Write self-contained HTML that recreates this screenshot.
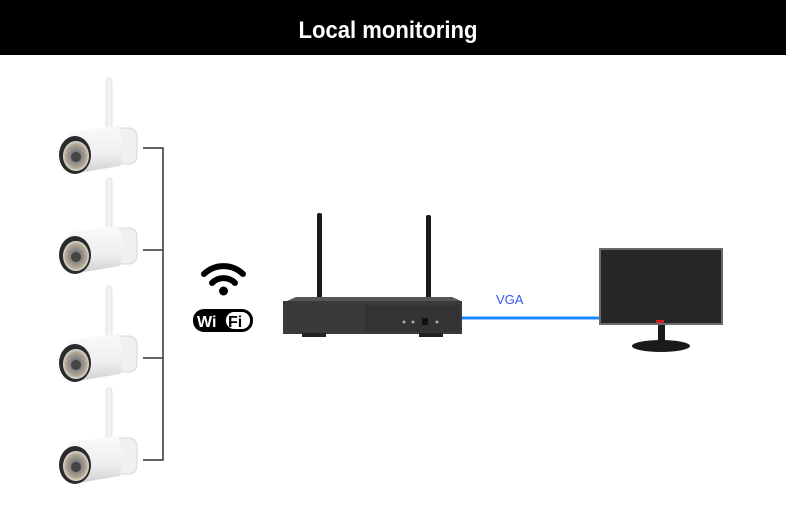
<!DOCTYPE html>
<html><head><style>
html,body{margin:0;padding:0;background:#fff;width:786px;height:511px;overflow:hidden}
</style></head><body>
<svg width="786" height="511" viewBox="0 0 786 511" xmlns="http://www.w3.org/2000/svg">
<defs>
<linearGradient id="bd" x1="0" y1="0" x2="0" y2="1"><stop offset="0" stop-color="#fafafa"/><stop offset="0.6" stop-color="#eeeeee"/><stop offset="1" stop-color="#cfcfcf"/></linearGradient>
<radialGradient id="ln" cx="0.5" cy="0.5" r="0.5"><stop offset="0" stop-color="#555"/><stop offset="0.45" stop-color="#888"/><stop offset="0.8" stop-color="#b5a890"/><stop offset="1" stop-color="#ddd"/></radialGradient>
<g id="cam">
  <rect x="106" y="-72" width="6" height="62" rx="3" fill="#f2f2f2" stroke="#ddd" stroke-width="0.8"/>
  <path d="M113,-22 h16 a8,8 0 0 1 8,8 v20 a8,8 0 0 1 -8,8 h-16 z" fill="#f0f0f0" stroke="#d8d8d8"/>
  <path d="M70,-18 L118,-24 Q126,-6 120,16 L72,24 Q58,3 70,-18 z" fill="url(#bd)"/>
  <ellipse cx="75" cy="5" rx="16" ry="19" fill="#2a2a2a"/>
  <ellipse cx="76" cy="6" rx="13" ry="15" fill="url(#ln)"/>
  <circle cx="76" cy="7" r="5" fill="#444"/>
</g>
</defs>
<rect x="0" y="0" width="786" height="55" fill="#000"/>
<text x="388" y="38" text-anchor="middle" font-family="Liberation Sans, sans-serif" font-weight="bold" font-size="24" fill="#fff" transform="translate(388,0) scale(0.92,1) translate(-388,0)">Local monitoring</text>

<use href="#cam" transform="translate(0,150)"/>
<use href="#cam" transform="translate(0,250)"/>
<use href="#cam" transform="translate(0,358)"/>
<use href="#cam" transform="translate(0,460)"/>

<g stroke="#333" stroke-width="1.5" fill="none">
<path d="M143,148 H163 V460 H143"/>
<path d="M143,250 H163"/>
<path d="M143,358 H163"/>
</g>

<!-- wifi -->
<g fill="none" stroke="#000" stroke-linecap="round" stroke-width="6">
<path d="M204,274 A28,28 0 0 1 243,274"/>
<path d="M212,283 A16,16 0 0 1 235,283"/>
</g>
<circle cx="223.5" cy="291" r="4.5" fill="#000"/>
<rect x="193" y="309" width="60" height="23" rx="11" fill="#000"/>
<rect x="226" y="312" width="24" height="17" rx="8" fill="#fff"/>
<text x="197" y="327" font-family="Liberation Sans, sans-serif" font-weight="bold" font-size="16" fill="#fff">Wi</text>
<text x="228" y="327" font-family="Liberation Sans, sans-serif" font-weight="bold" font-size="16" fill="#000">Fi</text>

<!-- NVR -->
<rect x="317" y="213" width="5" height="94" rx="2" fill="#1a1a1a"/>
<rect x="426" y="215" width="5" height="92" rx="2" fill="#1a1a1a"/>
<path d="M287,301 L296,297 H452 L461,301 Z" fill="#555"/>
<rect x="283" y="301" width="179" height="33" fill="#3a3a3c"/>
<rect x="365" y="305" width="95" height="27" fill="#333335"/>
<rect x="302" y="333" width="24" height="4" fill="#222"/>
<rect x="419" y="333" width="24" height="4" fill="#222"/>
<circle cx="404" cy="322" r="1.5" fill="#aaa"/><circle cx="413" cy="322" r="1.5" fill="#aaa"/>
<rect x="422" y="318" width="6" height="7" fill="#111"/><circle cx="437" cy="322" r="1.5" fill="#aaa"/>

<line x1="462" y1="318" x2="600" y2="318" stroke="#1e88ff" stroke-width="3"/>
<text x="496" y="304" font-family="Liberation Sans, sans-serif" font-size="13" fill="#3355ee">VGA</text>

<!-- monitor -->
<rect x="599" y="248" width="124" height="77" fill="#6a6a6a"/>
<rect x="601" y="250" width="120" height="73" fill="#262626"/>
<rect x="656" y="320" width="8" height="3" fill="#c22"/>
<rect x="658" y="325" width="7" height="18" fill="#1a1a1a"/>
<ellipse cx="661" cy="346" rx="29" ry="6" fill="#1a1a1a"/>
</svg>
</body></html>
